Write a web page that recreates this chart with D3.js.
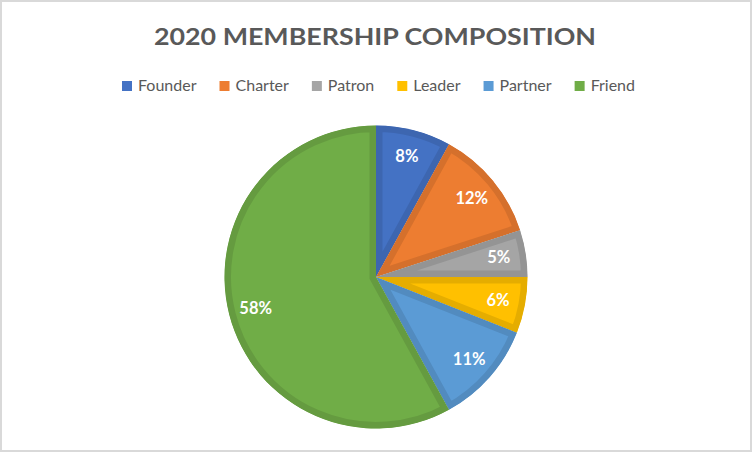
<!DOCTYPE html>
<html>
<head>
<meta charset="utf-8">
<script src="https://cdn.jsdelivr.net/npm/d3@7"></script>
<style>
  body { margin: 0; background: #fff; }
  svg { display: block; font-family: Lato, "Open Sans", sans-serif; }
</style>
</head>
<body>
<svg id="chart" width="754" height="454"></svg>
<script>
// data
var categories = ["Founder", "Charter", "Patron", "Leader", "Partner", "Friend"];
var shares = [8, 12, 5, 6, 11, 58];
var fills = ["#4472C4", "#ED7D31", "#A5A5A5", "#FFC000", "#5B9BD5", "#70AD47"];
var title = "2020 MEMBERSHIP COMPOSITION";

var svg = d3.select("#chart");
var W = 754, H = 454;

// chart area border
svg.append("rect")
    .attr("x", 1).attr("y", 1)
    .attr("width", W - 4).attr("height", H - 4)
    .attr("fill", "#fff")
    .attr("stroke", "#d9d9d9")
    .attr("stroke-width", 2);

svg.append("text")
    .attr("x", 154).attr("y", 45)
    .attr("font-size", 22.5)
    .attr("font-weight", "bold")
    .attr("textLength", 442)
    .attr("lengthAdjust", "spacingAndGlyphs")
    .attr("fill", "#595959")
    .text(title);

// legend: squares from x=122, last label ends near x=635
var legend = svg.append("g").attr("transform", "translate(122,91)");
var items = legend.selectAll("g").data(categories).enter().append("g");
items.append("rect")
    .attr("width", 10).attr("height", 10)
    .attr("y", -10)
    .attr("fill", function(d, i) { return fills[i]; });
items.append("text")
    .attr("x", 16).attr("y", 0)
    .attr("font-size", 16)
    .attr("fill", "#595959")
    .text(function(d) { return d; });

var widths = [];
items.each(function() {
    widths.push(16 + this.querySelector("text").getComputedTextLength());
});
var gap = (635 - 122 - d3.sum(widths)) / (categories.length - 1);
var xpos = 0;
items.each(function(d, i) {
    d3.select(this).attr("transform", "translate(" + xpos + ",0)");
    xpos += widths[i] + gap;
});

// pie
var cx = 376, cy = 277, R = 151.5;
var pie = d3.pie().sort(null).value(function(d) { return d; });
var arc = d3.arc().innerRadius(0).outerRadius(R);
var labelArc = d3.arc().innerRadius(R * 0.82).outerRadius(R * 0.82);

var g = svg.append("g").attr("transform", "translate(" + cx + "," + cy + ")");
var arcs = pie(shares);

var defs = svg.append("defs");
defs.selectAll("clipPath").data(arcs).enter().append("clipPath")
    .attr("id", function(d, i) { return "clip" + i; })
    .append("path")
    .attr("d", arc);

g.selectAll("path.slice").data(arcs).enter().append("path")
    .attr("class", "slice")
    .attr("d", arc)
    .attr("fill", function(d, i) { return fills[i]; })
    .attr("stroke", function(d, i) { return d3.color(fills[i]).darker(0.3); })
    .attr("stroke-width", 13)
    .attr("stroke-linejoin", "miter")
    .attr("clip-path", function(d, i) { return "url(#clip" + i + ")"; });

g.selectAll("text.lbl").data(arcs).enter().append("text")
    .attr("class", "lbl")
    .attr("transform", function(d) { return "translate(" + labelArc.centroid(d) + ")"; })
    .attr("text-anchor", "middle")
    .attr("dy", "0.35em")
    .attr("font-size", 16.5)
    .attr("font-weight", "bold")
    .attr("fill", "#fff")
    .text(function(d) { return d.data + "%"; });
</script>
</body>
</html>
